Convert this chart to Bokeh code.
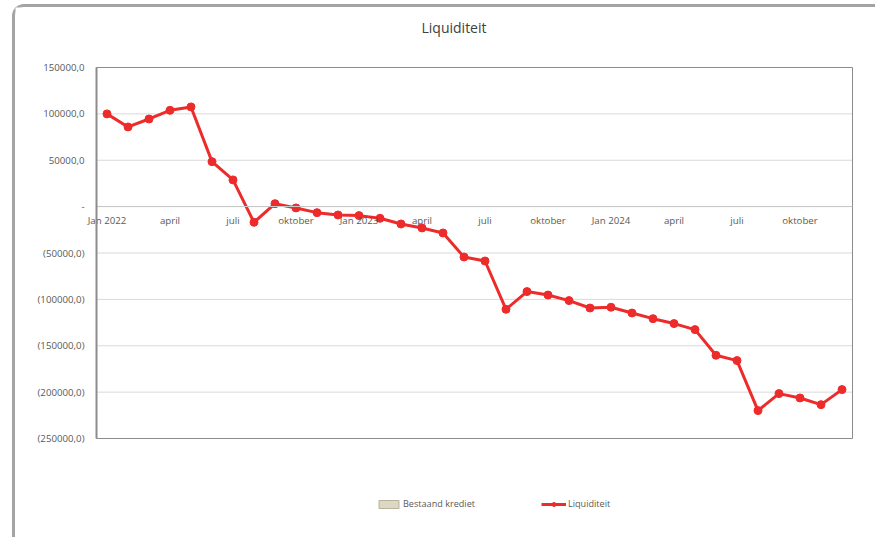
from bokeh.plotting import figure
from bokeh.models import Range1d, FixedTicker, Legend, LegendItem, ColumnDataSource, LinearAxis, Label
from bokeh.embed import file_html
from bokeh.resources import INLINE

# ---- data ----
months = ["Jan 2022", "feb", "mrt", "april", "mei", "juni", "juli", "aug", "sep", "oktober", "nov", "dec",
          "Jan 2023", "feb", "mrt", "april", "mei", "juni", "juli", "aug", "sep", "oktober", "nov", "dec",
          "Jan 2024", "feb", "mrt", "april", "mei", "juni", "juli", "aug", "sep", "oktober", "nov", "dec"]
liquiditeit = [100000, 85900, 94500, 103800, 107500, 48500, 28800, -16900, 3200, -1400, -6500, -9000,
               -9700, -12600, -18700, -23000, -28400, -54300, -58600, -110700, -91600, -95300, -101300, -109300,
               -108500, -114700, -120800, -126100, -132600, -160300, -166000, -219900, -201600, -206300, -213500, -197300]
bestaand_krediet = [None] * len(months)  # no existing credit values in this period

x_tick_pos = [0, 3, 6, 9, 12, 15, 18, 21, 24, 27, 30, 33]
x_tick_labels = ["Jan 2022", "april", "juli", "oktober", "Jan 2023", "april", "juli", "oktober",
                 "Jan 2024", "april", "juli", "oktober"]
y_ticks = [150000, 100000, 50000, 0, -50000, -100000, -150000, -200000, -250000]
y_tick_labels = ["150000,0", "100000,0", "50000,0", "-", "(50000,0)", "(100000,0)", "(150000,0)",
                 "(200000,0)", "(250000,0)"]

FONT = "Open Sans"
TXT = "#595959"
RED = "#ee2b2b"

# ---- layout (page pixels) ----
CL, CT = 15, 7            # canvas left / top on the page (after css margin + border)
W, H = 860, 530           # canvas size
PA_L, PA_R, PA_T, PA_B = 96, 852, 67, 438   # plot area on the page

x_lo, x_hi = -0.5, len(months) - 0.5
y_lo, y_hi = min(y_ticks), max(y_ticks)
kx = (x_hi - x_lo) / (PA_R - PA_L)
ky = (y_hi - y_lo) / (PA_B - PA_T)


def px_x(px):
    return x_lo + (px - PA_L) * kx


def px_y(py):
    return y_hi - (py - PA_T) * ky


idx = list(range(len(months)))
src = ColumnDataSource(dict(x=idx, y=liquiditeit, m=months))
ksrc = ColumnDataSource(dict(x=idx, top=[float("nan") if v is None else v for v in bestaand_krediet]))

p = figure(output_backend="svg", toolbar_location=None,
           frame_width=W, frame_height=H, min_border=0,
           x_range=Range1d(px_x(CL), px_x(CL + W)), y_range=Range1d(px_y(CT + H), px_y(CT)),
           x_axis_location=None, y_axis_location=None)
p.title.visible = False
p.outline_line_color = None
p.background_fill_color = "white"
p.border_fill_color = "white"
p.grid.visible = False

p.styles = {"margin-left": "12px", "margin-top": "4px",
            "border-top": "3px solid #a4a4a4", "border-left": "3px solid #a4a4a4",
            "border-top-left-radius": "12px"}

# plot-area gridlines and outline
p.segment(x0=[x_lo] * len(y_ticks), x1=[x_hi] * len(y_ticks), y0=y_ticks, y1=y_ticks,
          line_color="#d9d9d9", line_width=1)
p.quad(left=[x_lo], right=[x_hi], bottom=[y_lo], top=[y_hi], fill_color=None,
       line_color="#8c8c8c", line_width=1)

# axes
yax = LinearAxis(fixed_location=x_lo, bounds=(y_lo, y_hi), ticker=FixedTicker(ticks=y_ticks),
                 major_label_overrides={t: l for t, l in zip(y_ticks, y_tick_labels)},
                 axis_line_color="#8c8c8c", axis_line_width=2,
                 major_tick_line_color=None, minor_tick_line_color=None,
                 major_tick_in=0, major_tick_out=0,
                 major_label_text_font=FONT, major_label_text_font_size="9.7px",
                 major_label_text_color=TXT, major_label_standoff=12)
p.add_layout(yax, "left")

xax = LinearAxis(fixed_location=0, bounds=(x_lo, x_hi), ticker=FixedTicker(ticks=x_tick_pos),
                 major_label_overrides={t: l for t, l in zip(x_tick_pos, x_tick_labels)},
                 axis_line_color="#c8c8c8", axis_line_width=1,
                 major_tick_line_color=None, minor_tick_line_color=None,
                 major_tick_in=0, major_tick_out=0,
                 major_label_text_font=FONT, major_label_text_font_size="9.7px",
                 major_label_text_color=TXT, major_label_standoff=7)
p.add_layout(xax, "below")

# series
kr = p.vbar(x="x", top="top", width=0.6, source=ksrc, fill_color="#dcd8c2", line_color="#b8b29a")
lr = p.line(x="x", y="y", source=src, line_color=RED, line_width=3)
sr = p.scatter(x="x", y="y", source=src, size=8, fill_color=RED, line_color=RED)

# title
p.add_layout(Label(x=px_x(453.5), y=px_y(27), text="Liquiditeit", text_align="center",
                   text_baseline="middle", text_font=FONT, text_font_size="14px",
                   text_color="#404040"))

legend = Legend(items=[LegendItem(label="Bestaand krediet", renderers=[kr], index=0),
                       LegendItem(label="Liquiditeit", renderers=[lr, sr])],
                orientation="horizontal", location=(376 - CL, CT + H - 510),
                label_text_font=FONT, label_text_font_size="9.1px", label_text_color=TXT,
                glyph_width=25, glyph_height=10, label_standoff=2, spacing=66,
                label_height=10, border_line_color=None, background_fill_alpha=0,
                padding=0, margin=0)
p.add_layout(legend, "center")

open("out.html", "w").write(file_html(p, INLINE))
